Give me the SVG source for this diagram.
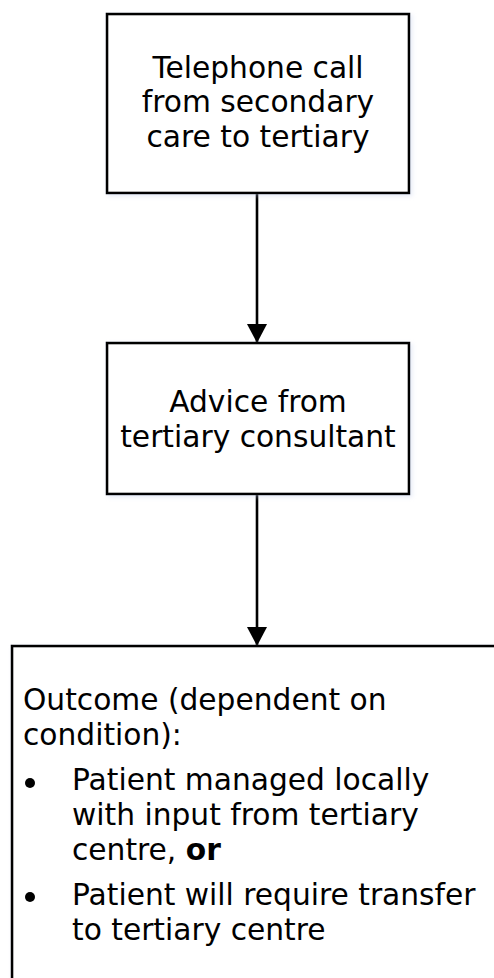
<svg xmlns="http://www.w3.org/2000/svg" width="494" height="978" viewBox="0 0 494 978">
  <style>
    .box { fill: #ffffff; stroke: #000000; stroke-width: 2.6; filter: url(#shadow); }
    .t { font-family: Verdana, "DejaVu Sans", sans-serif; font-size: 29.7px; fill: #000000; }
    .c { text-anchor: middle; }
    .edge { stroke: #000000; stroke-width: 2.6; fill: none; marker-end: url(#arrow); }
  </style>
  <defs>
    <filter id="shadow" x="-10%" y="-10%" width="120%" height="120%">
      <feDropShadow dx="2" dy="2" stdDeviation="2" flood-color="#b8c8e8" flood-opacity="0.35"/>
    </filter>
    <marker id="arrow" markerUnits="userSpaceOnUse" markerWidth="22" markerHeight="22" viewBox="0 0 22 22" refX="19" refY="11" orient="auto">
      <path d="M0,1 L19,11 L0,21 Z" fill="#000000"/>
    </marker>
  </defs>
  <rect width="494" height="978" fill="#ffffff"/>

  <g id="connectors">
    <line class="edge" x1="257" y1="193" x2="257" y2="343"/>
    <line class="edge" x1="257" y1="494" x2="257" y2="646"/>
  </g>

  <g id="node-telephone">
    <rect class="box" x="107" y="14" width="302" height="179"/>
    <text class="t c" x="258" y="78">Telephone call</text>
    <text class="t c" x="258" y="112">from secondary</text>
    <text class="t c" x="258" y="147">care to tertiary</text>
  </g>

  <g id="node-advice">
    <rect class="box" x="107" y="343" width="302" height="151"/>
    <text class="t c" x="258" y="412">Advice from</text>
    <text class="t c" x="258" y="447">tertiary consultant</text>
  </g>

  <g id="node-outcome">
    <rect class="box" x="12" y="646" width="484" height="345"/>
    <text class="t" x="23" y="710">Outcome (dependent on</text>
    <text class="t" x="23" y="745">condition):</text>
    <circle cx="30" cy="783" r="5"/>
    <text class="t" x="72" y="790">Patient managed locally</text>
    <text class="t" x="72" y="825">with input from tertiary</text>
    <text class="t" x="72" y="860">centre, <tspan font-weight="bold">or</tspan></text>
    <circle cx="30" cy="897" r="5"/>
    <text class="t" x="72" y="905">Patient will require transfer</text>
    <text class="t" x="72" y="940">to tertiary centre</text>
  </g>
</svg>
